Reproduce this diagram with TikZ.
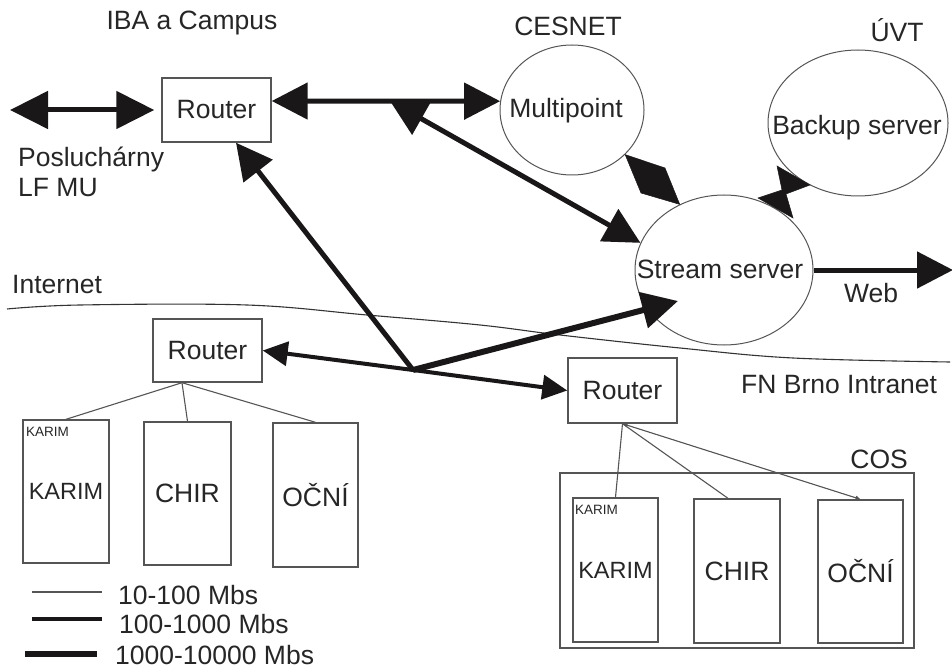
\documentclass[tikz,border=0pt]{standalone}
\usepackage{fontspec}
\setmainfont{Liberation Sans}
\usetikzlibrary{arrows.meta,shapes.geometric,calc}
\definecolor{ink}{HTML}{1A1718}
\definecolor{txtc}{HTML}{262626}
\definecolor{edgec}{HTML}{555555}
\begin{document}
\begin{tikzpicture}[x=1pt,y=-1pt,
  lbl/.style={font=\fontsize{26.5}{30}\selectfont, text=txtc, inner sep=0pt},
  smalllbl/.style={font=\fontsize{13.5}{15}\selectfont, text=txtc, inner sep=0pt},
  boxn/.style={draw=edgec, line width=1.4pt, inner sep=0pt, font=\fontsize{26.5}{30}\selectfont, text=txtc},
  elln/.style={ellipse, draw=edgec, line width=1pt, inner sep=0pt},
  wA/.style={line width=5pt, draw=ink, fill=ink},
  wB/.style={line width=4pt, draw=ink, fill=ink},
  wC/.style={line width=6pt, draw=ink, fill=ink},
  thinl/.style={line width=1.1pt, draw=edgec},
  dblH/.style={arrows={{Triangle[length=36pt,width=36pt]}-{Triangle[length=36pt,width=36pt]}}},
  endH/.style={arrows={-{Triangle[length=36pt,width=36pt]}}},
  endS/.style={arrows={-{Triangle[length=25pt,width=24pt]}}},
  tinyH/.style={arrows={{Triangle[length=5pt,width=4pt]}-{Triangle[length=5pt,width=4pt]}}},
  wedge/.style={fill=ink, draw=ink, line width=0.5pt, line join=miter}
]
\useasboundingbox (0,0) rectangle (952,668);

% region labels
\node[lbl, anchor=base] (tIBA) at (192,30) {IBA a Campus};
\node[lbl, anchor=base] (tCES) at (568,36) {CESNET};
\node[lbl, anchor=base] (tUVT) at (897,42) {ÚVT};
\node[lbl, anchor=base west] (tPos) at (18,167) {Posluchárny};
\node[lbl, anchor=base west] (tLF) at (18,197) {LF MU};
\node[lbl, anchor=base west] (tInt) at (12,293) {Internet};
\node[lbl, anchor=base west] (tFN) at (741,393) {FN Brno Intranet};
\node[lbl, anchor=base east] (tCOS) at (908,468) {COS};
\node[lbl, anchor=base] (tWeb) at (871,302) {Web};

% Internet boundary
\draw[line width=1.1pt, draw=black!80] plot[smooth, tension=0.6] coordinates {(7,309) (80,305) (247,305) (367,315) (480,325) (560,335) (680,348) (793,358) (950,362)};

% COS group
\node[boxn, minimum width=354pt, minimum height=175pt] (cos) at (737,560.5) {};

% routers
\node[boxn, minimum width=109pt, minimum height=64pt] (r1) at (216.5,110) {Router};
\node[boxn, minimum width=109pt, minimum height=63pt] (r2) at (207.5,350.5) {Router};
\node[boxn, minimum width=109pt, minimum height=65pt] (r3) at (622.5,390.5) {Router};

% departments left
\node[boxn, minimum width=86pt, minimum height=143pt, font=\fontsize{23.5}{28}\selectfont] (k1) at (66,491.5) {KARIM};
\node[boxn, minimum width=87pt, minimum height=143pt] (c1) at (187.5,493.5) {CHIR};
\node[boxn, minimum width=85pt, minimum height=144pt] (o1) at (315.5,495) {OČNÍ};
\node[smalllbl, anchor=base west] (sk1) at (26,436) {KARIM};

% departments right
\node[boxn, minimum width=85pt, minimum height=144pt, font=\fontsize{23.5}{28}\selectfont] (k2) at (615.5,570) {KARIM};
\node[boxn, minimum width=86pt, minimum height=144pt] (c2) at (737,571) {CHIR};
\node[boxn, minimum width=85pt, minimum height=143pt] (o2) at (860.5,571.5) {OČNÍ};
\node[smalllbl, anchor=base west] (sk2) at (575,514) {KARIM};

% servers
\node[elln, minimum width=144pt, minimum height=130pt] (mp) at (572,110) {};
\node[lbl, anchor=base] (mpt) at (566,118) {Multipoint};
\node[elln, minimum width=180pt, minimum height=146pt] (bk) at (858,123) {};
\node[lbl, anchor=base] (bkt) at (857,135) {Backup server};
\node[elln, minimum width=178pt, minimum height=150pt] (ss) at (724,270) {};
\node[lbl, anchor=base] (sst) at (720,278) {Stream server};

% helper points
\coordinate (pl) at (10,110);
\coordinate (j1) at (390,101);
\coordinate (j2) at (413,370);
\coordinate (ssin) at (678,301);
\coordinate (web) at (953,270);
\coordinate (f2) at ([xshift=-25.5pt]r2.south);

% thick connectors
\draw[wA, arrows={{Triangle[length=38pt,width=37pt]}-{Triangle[length=38pt,width=37pt]}}] (pl) -- ([xshift=-7pt]r1.west);
\draw[wA, dblH] ([yshift=9pt]r1.east) -- (mp.173);
\draw[wA, dblH] (j1) -- (ss.162);
\draw[wA, endH] (ss.east) -- (web);
\draw[wA, endH] (j2) -- ([xshift=19.5pt]r1.south);
\draw[wB, endS] (j2) -- (r2.east);
\draw[wB, endS] (j2) -- (r3.west);
\draw[wC, endH] (j2) -- (ssin);

% Multipoint <-> Stream server (diamond-shaped double head)
\coordinate (dm1) at (mp.320);
\coordinate (dm3) at (ss.124);
\coordinate (dm2) at (665,168);
\coordinate (dm4) at (641,193);
\draw[wedge] (dm1) -- (dm2) -- (dm3) -- (dm4) -- cycle;

% Backup server <-> Stream server (bow-tie)
\coordinate (bw1) at (777,166);
\coordinate (bw2) at (810,185);
\coordinate (bw3) at (786,194);
\coordinate (bw4) at (793,218);
\coordinate (bw5) at (758,198);
\coordinate (bw6) at (782,190);
\draw[wedge] (bw1) -- (bw2) -- (bw3) -- (bw4) -- (bw5) -- (bw6) -- cycle;

% thin connectors
\draw[thinl] (f2) -- (k1.north);
\draw[thinl] (f2) -- (c1.north);
\draw[thinl] (f2) -- (o1.north);
\draw[thinl] (r3.south) -- (k2.north);
\draw[thinl] (r3.south) -- ([xshift=-9pt]c2.north);
\draw[thinl, fill=edgec, tinyH] (r3.south) -- (o2.north);

% legend
\coordinate (la1) at (32,592); \coordinate (lb1) at (102,592);
\coordinate (la2) at (32,619); \coordinate (lb2) at (102,619);
\coordinate (la3) at (25,654); \coordinate (lb3) at (97,654);
\draw[thinl] (la1) -- (lb1);
\draw[wB] (la2) -- (lb2);
\draw[wC] (la3) -- (lb3);
\node[lbl, anchor=base west] (lg1) at (118,604) {10-100 Mbs};
\node[lbl, anchor=base west] (lg2) at (119,633) {100-1000 Mbs};
\node[lbl, anchor=base west] (lg3) at (115,664) {1000-10000 Mbs};
\end{tikzpicture}
\end{document}
